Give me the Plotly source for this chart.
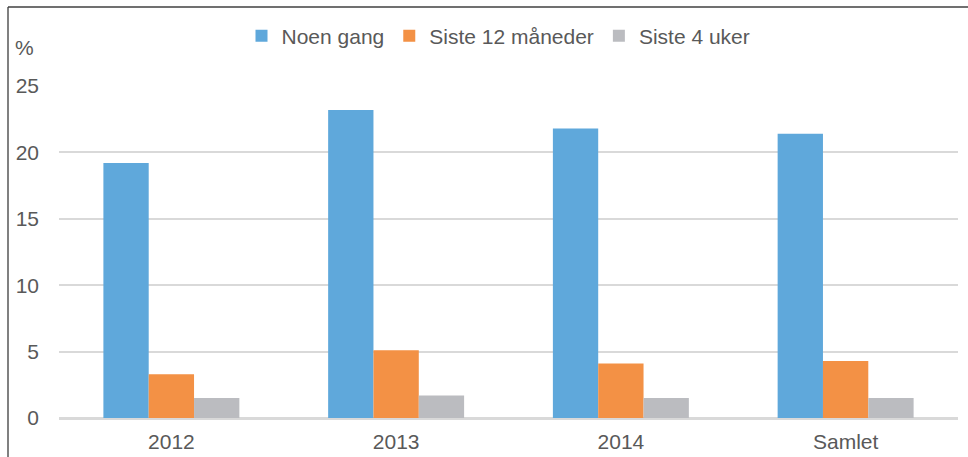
import plotly.graph_objects as go

categories = ["2012", "2013", "2014", "Samlet"]
noen_gang = [19.2, 23.2, 21.8, 21.4]
siste_12 = [3.3, 5.1, 4.1, 4.3]
siste_4 = [1.5, 1.7, 1.5, 1.5]
series_names = ["Noen gang", "Siste 12 måneder", "Siste 4 uker"]
colors = ["#5FA8DB", "#F39145", "#BBBCC0"]
y_ticks = [0, 5, 10, 15, 20, 25]

W, H = 968, 457
L, R, T, B = 59, 10, 86, 39
pw, ph = W - L - R, H - T - B

fig = go.Figure()
for name, vals, col in zip(series_names, [noen_gang, siste_12, siste_4], colors):
    fig.add_trace(go.Bar(x=categories, y=vals, name=name, marker_color=col,
                         marker_line_width=0))

font_col = "#595959"
fig.update_layout(
    width=W, height=H,
    margin=dict(l=L, r=R, t=T, b=B, pad=0, autoexpand=False),
    paper_bgcolor="white", plot_bgcolor="white",
    font=dict(family="Liberation Sans, Arial", size=21, color=font_col),
    barmode="group", bargap=0.395, bargroupgap=0,
    showlegend=True,
    legend=dict(orientation="h", x=0.5 - 10 / pw, xanchor="center", y=1 + (86 - 36) / ph,
                yanchor="middle", font=dict(size=21, color=font_col),
                itemwidth=30, tracegroupgap=0, bgcolor="rgba(0,0,0,0)"),
    xaxis=dict(showgrid=False, showline=False, ticks="", tickfont=dict(size=21),
               ticklabelstandoff=9, automargin=False),
    yaxis=dict(range=[0, 25], tickvals=y_ticks, showgrid=True, gridcolor="#D9D9D9",
               gridwidth=2, zeroline=True, zerolinecolor="#D9D9D9", zerolinewidth=3,
               showline=False, ticks="", ticklabelstandoff=19, tickfont=dict(size=21),
               automargin=False),
)

fig.add_annotation(text="%", xref="paper", yref="paper",
                   x=(13 - L) / pw, y=1 + (86 - 48) / ph, xanchor="left", yanchor="middle",
                   showarrow=False, font=dict(size=21, color=font_col))

# frame (only top and left edges visible)
fx = (8 - L) / pw
fy = 1 + (T - 7) / ph
fig.add_shape(type="line", xref="paper", yref="paper", x0=fx, x1=fx, y0=-0.5, y1=fy,
              line=dict(color="#808080", width=2))
fig.add_shape(type="line", xref="paper", yref="paper", x0=fx, x1=1.5, y0=fy, y1=fy,
              line=dict(color="#404040", width=1.5))

fig.write_html("out.html", config={"displayModeBar": False},
               post_script="document.body.style.margin='0';")
